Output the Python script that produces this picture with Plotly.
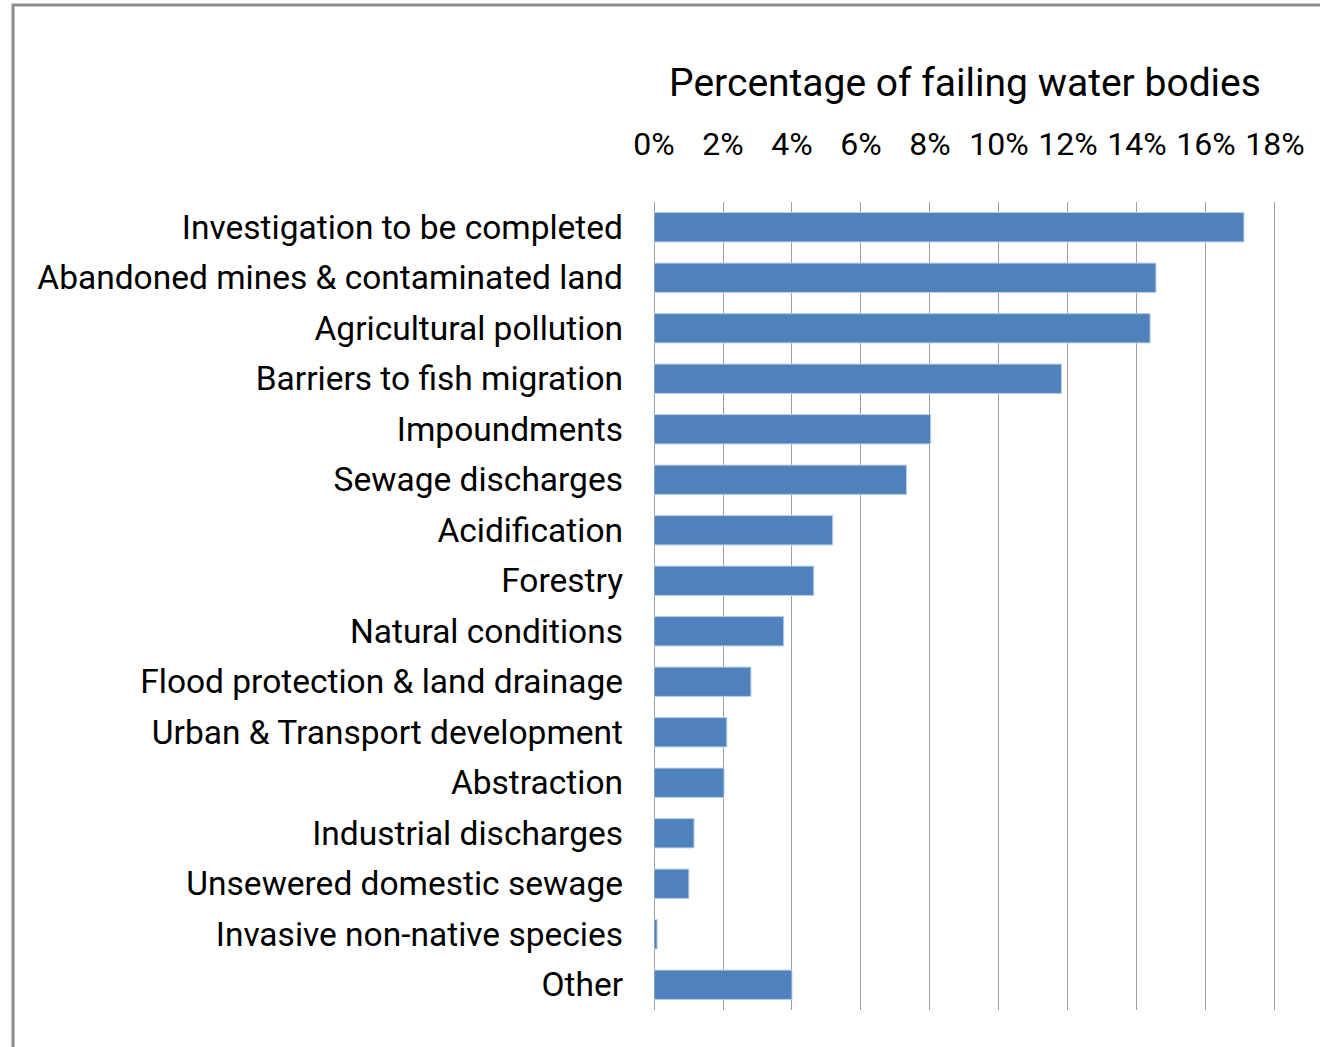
import plotly.graph_objects as go

categories = [
    "Investigation to be completed",
    "Abandoned mines & contaminated land",
    "Agricultural pollution",
    "Barriers to fish migration",
    "Impoundments",
    "Sewage discharges",
    "Acidification",
    "Forestry",
    "Natural conditions",
    "Flood protection & land drainage",
    "Urban & Transport development",
    "Abstraction",
    "Industrial discharges",
    "Unsewered domestic sewage",
    "Invasive non-native species",
    "Other",
]
values = [0.171, 0.1455, 0.1438, 0.1181, 0.0802, 0.0732, 0.0518, 0.0463,
          0.0376, 0.0281, 0.0211, 0.0203, 0.0116, 0.0101, 0.0009, 0.0400]
tick_vals = [0, 0.02, 0.04, 0.06, 0.08, 0.10, 0.12, 0.14, 0.16, 0.18]
tick_text = ["0%", "2%", "4%", "6%", "8%", "10%", "12%", "14%", "16%", "18%"]
x_title = "Percentage of failing water bodies"

FONT = "Roboto, Liberation Sans, Arial, sans-serif"

fig = go.Figure(go.Bar(
    x=values, y=categories, orientation="h",
    marker=dict(color="#4F81BD", line=dict(color="#B9CDE5", width=1)),
    showlegend=False,
))

W, H = 1320, 1047
L, R, T, B = 654, 44, 202, 37
pw, ph = W - L - R, H - T - B

def px(xp):
    return (xp - L) / pw

def py(yp):
    return (H - B - yp) / ph

fig.update_layout(
    width=W, height=H,
    margin=dict(l=L, r=R, t=T, b=B, pad=0, autoexpand=False),
    paper_bgcolor="white", plot_bgcolor="white",
    bargap=0.42,
    font=dict(family=FONT, color="black"),
    xaxis=dict(
        side="top", range=[0, 0.1803],
        tickvals=tick_vals, ticktext=tick_text, tickangle=0,
        showgrid=True, gridcolor="#A0A0A0", gridwidth=1,
        zeroline=True, zerolinecolor="#A0A0A0", zerolinewidth=1,
        showline=False, ticks="",
        tickfont=dict(size=32, family=FONT, color="black"),
        ticklabelstandoff=40, automargin=False,
        title=dict(text=x_title, font=dict(size=39, family=FONT, color="black"), standoff=15),
    ),
    yaxis=dict(
        autorange="reversed",
        showgrid=False, zeroline=False, showline=False, ticks="",
        tickfont=dict(size=33.5, family=FONT, color="black"),
        ticklabelstandoff=30, automargin=False,
    ),
    shapes=[dict(
        type="rect", xref="paper", yref="paper",
        x0=px(13), x1=px(1330), y0=py(1060), y1=py(5),
        line=dict(color="#8C8C8C", width=3), fillcolor="rgba(0,0,0,0)",
        layer="above",
    )],
)

fig.write_html("out.html")
